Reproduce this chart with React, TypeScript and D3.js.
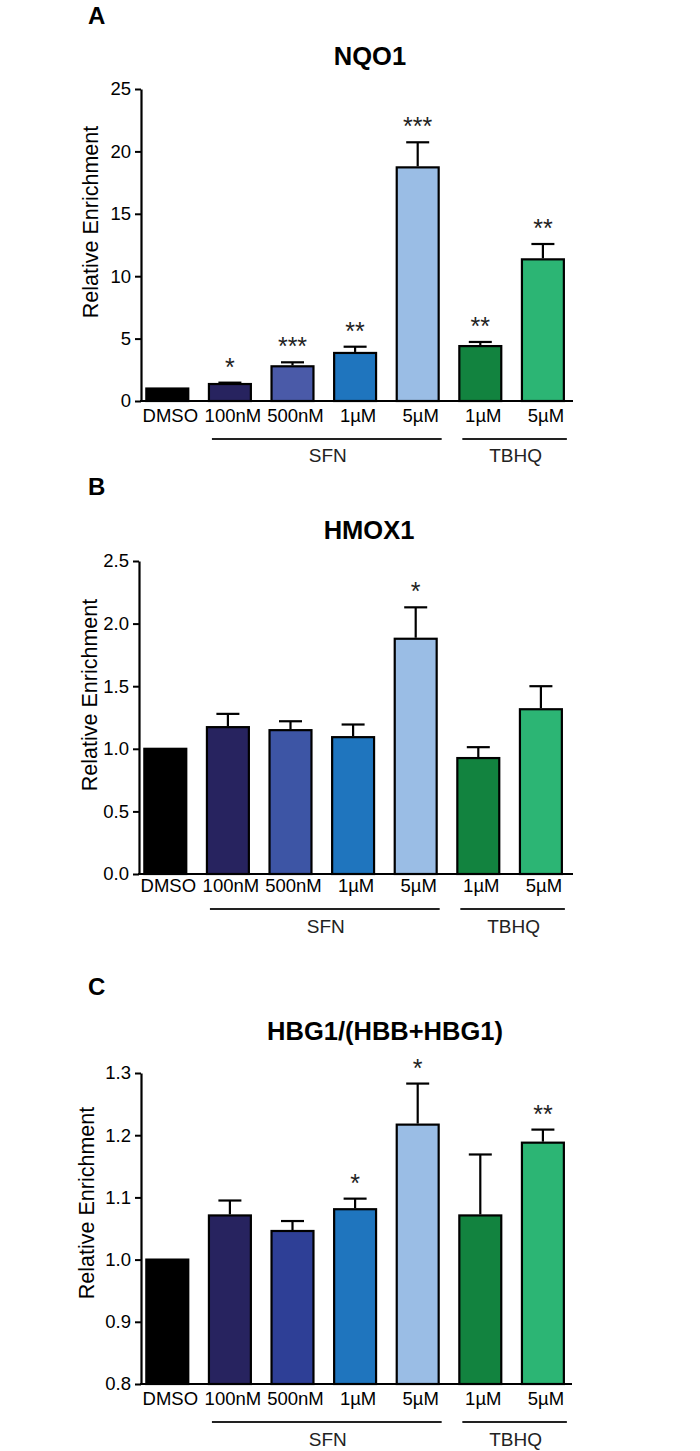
import React, { useRef, useEffect } from 'react';
import * as d3 from 'd3';

const categories = ['DMSO', '100nM', '500nM', '1µM', '5µM', '1µM', '5µM'];
const groups = [
  { label: 'SFN', from: 1, to: 4 },
  { label: 'TBHQ', from: 5, to: 6 },
];

// NQO1
const nqo1Mean = [1.0, 1.36, 2.78, 3.85, 18.72, 4.4, 11.35];
const nqo1Sem = [0, 0.11, 0.32, 0.5, 2.01, 0.33, 1.23];
const nqo1Stars = ['', '*', '***', '**', '***', '**', '**'];
const nqo1Ticks = [0, 5, 10, 15, 20, 25];

// HMOX1
const hmox1Mean = [1.0, 1.173, 1.149, 1.093, 1.879, 0.926, 1.316];
const hmox1Sem = [0, 0.106, 0.071, 0.101, 0.251, 0.087, 0.184];
const hmox1Stars = ['', '', '', '', '*', '', ''];
const hmox1Ticks = [0, 0.5, 1.0, 1.5, 2.0, 2.5];

// HBG1/(HBB+HBG1)
const hbgMean = [1.0, 1.071, 1.046, 1.081, 1.217, 1.071, 1.188];
const hbgSem = [0, 0.024, 0.016, 0.017, 0.066, 0.098, 0.021];
const hbgStars = ['', '', '', '*', '*', '', '**'];
const hbgTicks = [0.8, 0.9, 1.0, 1.1, 1.2, 1.3];

const FONT = '"Liberation Sans", Arial, Helvetica, sans-serif';

const basePalette = ['#000000', '#27235f', '#4a5aa8', '#1f75be', '#9abde5', '#12833f', '#2cb574'];

const panels = [
  {
    letter: 'A', letterY: 24, title: 'NQO1', titleX: 370, titleY: 65,
    mean: nqo1Mean, sem: nqo1Sem, stars: nqo1Stars, ticks: nqo1Ticks,
    domain: [0, 25], fmt: d3.format('d'),
    axisX: 141, yTop: 89, yBottom: 401, axisEnd: 573,
    yTitleX: 98, yTitleY: 222, catDy: 21, bracketDy: 38, groupDy: 61,
    colors: basePalette,
  },
  {
    letter: 'B', letterY: 495, title: 'HMOX1', titleX: 369, titleY: 539,
    mean: hmox1Mean, sem: hmox1Sem, stars: hmox1Stars, ticks: hmox1Ticks,
    domain: [0, 2.5], fmt: d3.format('.1f'),
    axisX: 139, yTop: 561, yBottom: 874, axisEnd: 573,
    yTitleX: 97, yTitleY: 695, catDy: 18, bracketDy: 35, groupDy: 59,
    colors: basePalette.map((c, i) => (i === 2 ? '#3d55a5' : c)),
  },
  {
    letter: 'C', letterY: 995, title: 'HBG1/(HBB+HBG1)', titleX: 385, titleY: 1040,
    mean: hbgMean, sem: hbgSem, stars: hbgStars, ticks: hbgTicks,
    domain: [0.8, 1.3], fmt: d3.format('.1f'),
    axisX: 141, yTop: 1073, yBottom: 1384, axisEnd: 572,
    yTitleX: 94, yTitleY: 1203, catDy: 21, bracketDy: 38, groupDy: 62,
    colors: basePalette.map((c, i) => (i === 2 ? '#2e3f96' : c)),
  },
];

const App = () => {
  const ref = useRef<SVGSVGElement>(null);

  useEffect(() => {
    const svg = d3.select(ref.current);
    svg.selectAll('*').remove();

    panels.forEach((p) => {
      const g = svg.append('g').style('font-family', FONT);
      const idx = categories.map((_, i) => i);

      const x = d3
        .scaleBand<number>()
        .domain(idx)
        .range([p.axisX - 5, p.axisX - 5 + 7 * 62.6])
        .paddingInner(0.33)
        .paddingOuter(0.165);

      const y = d3.scaleLinear().domain(p.domain).range([p.yBottom, p.yTop]);

      // panel letter and title
      g.append('text')
        .attr('x', 88)
        .attr('y', p.letterY)
        .attr('font-size', 24)
        .attr('font-weight', 'bold')
        .text(p.letter);

      g.append('text')
        .attr('x', p.titleX)
        .attr('y', p.titleY)
        .attr('text-anchor', 'middle')
        .attr('font-size', 25.5)
        .attr('font-weight', 'bold')
        .text(p.title);

      // bars
      g.append('g')
        .selectAll('rect')
        .data(idx)
        .enter()
        .append('rect')
        .attr('x', (i) => x(i))
        .attr('y', (i) => y(p.mean[i]))
        .attr('width', x.bandwidth())
        .attr('height', (i) => y(p.domain[0]) - y(p.mean[i]))
        .attr('fill', (i) => p.colors[i])
        .attr('stroke', '#000')
        .attr('stroke-width', 2.2);

      // error bars (upper only)
      const eb = g
        .append('g')
        .selectAll('g')
        .data(idx.filter((i) => p.sem[i] > 0))
        .enter()
        .append('g')
        .attr('stroke', '#000')
        .attr('stroke-width', 2.2);
      eb.append('line')
        .attr('x1', (i) => x(i) + x.bandwidth() / 2)
        .attr('x2', (i) => x(i) + x.bandwidth() / 2)
        .attr('y1', (i) => y(p.mean[i]) - 1)
        .attr('y2', (i) => y(p.mean[i] + p.sem[i]));
      eb.append('line')
        .attr('x1', (i) => x(i) + x.bandwidth() / 2 - 11.5)
        .attr('x2', (i) => x(i) + x.bandwidth() / 2 + 11.5)
        .attr('y1', (i) => y(p.mean[i] + p.sem[i]))
        .attr('y2', (i) => y(p.mean[i] + p.sem[i]));

      // significance stars
      g.append('g')
        .selectAll('text')
        .data(idx.filter((i) => p.stars[i] !== ''))
        .enter()
        .append('text')
        .attr('x', (i) => x(i) + x.bandwidth() / 2)
        .attr('y', (i) => y(p.mean[i] + p.sem[i]) - 7)
        .attr('text-anchor', 'middle')
        .attr('font-size', 25)
        .attr('fill', '#222')
        .text((i) => p.stars[i]);

      // y axis
      const yAxis = g
        .append('g')
        .attr('transform', `translate(${p.axisX},0)`)
        .call(
          d3
            .axisLeft(y)
            .tickValues(p.ticks)
            .tickFormat((d) => p.fmt(d as number))
            .tickSize(6)
            .tickSizeOuter(0)
            .tickPadding(4)
        );
      yAxis.select('.domain').attr('stroke-width', 2.2);
      yAxis.selectAll('.tick line').attr('stroke-width', 2);
      yAxis
        .selectAll('.tick text')
        .attr('font-size', 18.5)
        .attr('font-family', FONT)
        .attr('fill', '#000');

      // x axis line
      g.append('line')
        .attr('x1', p.axisX - 1)
        .attr('x2', p.axisEnd)
        .attr('y1', p.yBottom)
        .attr('y2', p.yBottom)
        .attr('stroke', '#000')
        .attr('stroke-width', 2.2);

      // category labels
      g.append('g')
        .selectAll('text')
        .data(idx)
        .enter()
        .append('text')
        .attr('x', (i) => x(i) + x.bandwidth() / 2 + 3)
        .attr('y', p.yBottom + p.catDy)
        .attr('text-anchor', 'middle')
        .attr('font-size', 18.5)
        .text((i) => categories[i]);

      // group brackets
      groups.forEach((gr) => {
        const x1 = x(gr.from) + 3;
        const x2 = x(gr.to) + x.bandwidth() + 3;
        g.append('line')
          .attr('x1', x1)
          .attr('x2', x2)
          .attr('y1', p.yBottom + p.bracketDy)
          .attr('y2', p.yBottom + p.bracketDy)
          .attr('stroke', '#222')
          .attr('stroke-width', 2);
        g.append('text')
          .attr('x', (x1 + x2) / 2 + 1)
          .attr('y', p.yBottom + p.groupDy)
          .attr('text-anchor', 'middle')
          .attr('font-size', 19)
          .attr('fill', '#222')
          .text(gr.label);
      });

      // y axis title
      g.append('text')
        .attr('transform', `translate(${p.yTitleX},${p.yTitleY}) rotate(-90)`)
        .attr('text-anchor', 'middle')
        .attr('font-size', 21.5)
        .text('Relative Enrichment');
    });
  }, []);

  return (
    <svg
      ref={ref}
      width={700}
      height={1451}
      style={{ position: 'absolute', left: 0, top: 0, background: '#fff' }}
    ></svg>
  );
};

export default App;
